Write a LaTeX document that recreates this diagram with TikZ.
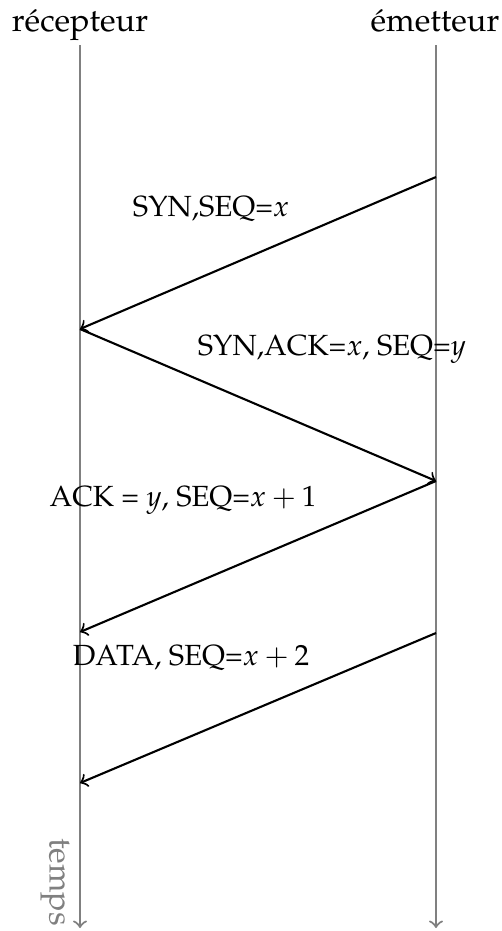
\documentclass[tikz,border=0pt]{standalone}
\usepackage[T1]{fontenc}
\usepackage{mathpazo}
\begin{document}
\begin{tikzpicture}[x=0.3086pt,y=-0.3086pt,
  timeline/.style={draw=gray,line width=0.65pt,->},
  msg/.style={draw=black,line width=0.65pt,->},
  lbl/.style={anchor=base,inner sep=0pt},
  msglbl/.style={anchor=base,inner sep=0pt,font=\fontsize{9}{11}\selectfont}]
\useasboundingbox (0,0) rectangle (501,931);
% actors
\node[lbl] (rec) at (80,31) {r\'ecepteur};
\node[lbl] (emi) at (435,31) {\'emetteur};
% timelines
\coordinate (rtop) at (80,45);
\coordinate (rbot) at (80,928);
\coordinate (etop) at (436,45);
\coordinate (ebot) at (436,928);
\draw[timeline] (rtop) -- (rbot);
\draw[timeline] (etop) -- (ebot);
\node[text=gray,rotate=-90,inner sep=0pt] (temps) at (55,882) {temps};
% message points
\coordinate (e1) at (436,177);
\coordinate (r1) at (80,329);
\coordinate (e2) at (436,481);
\coordinate (r2) at (80,632);
\coordinate (e3) at (436,633);
\coordinate (r3) at (80,783);
\draw[msg] (e1) -- (r1);
\draw[msg] (r1) -- (e2);
\draw[msg] (e2) -- (r2);
\draw[msg] (e3) -- (r3);
% labels
\node[msglbl] (l1) at (211,216) {SYN,SEQ=$x$};
\node[msglbl] (l2) at (332,355) {SYN,ACK=$x$, SEQ=$y$};
\node[msglbl] (l3) at (183,506) {ACK = $y$, SEQ=$x+1$};
\node[msglbl] (l4) at (191,665) {DATA, SEQ=$x+2$};
\end{tikzpicture}
\end{document}
